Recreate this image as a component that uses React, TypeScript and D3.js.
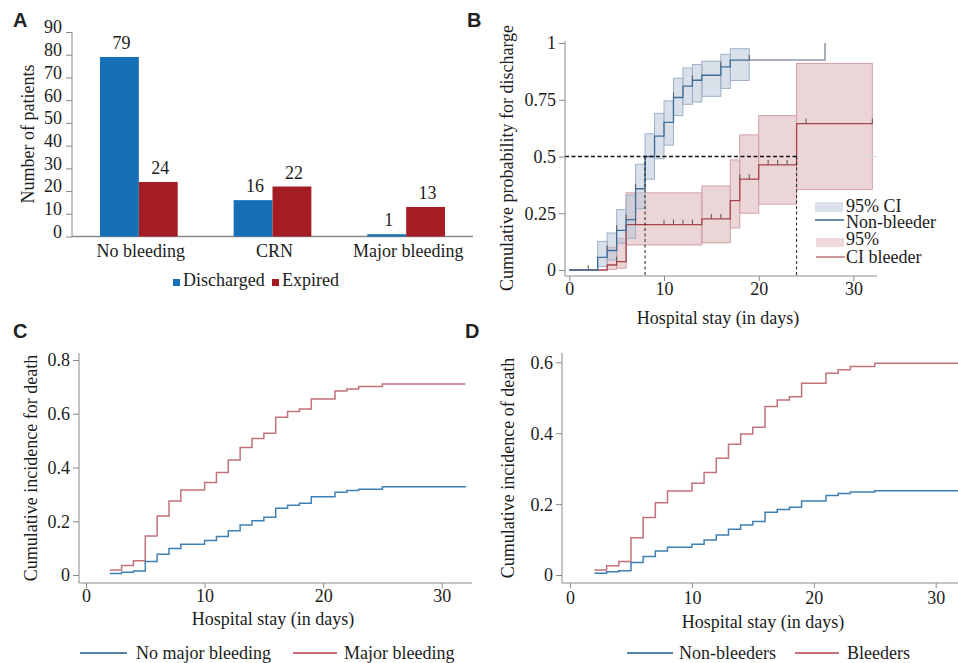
import React, { useEffect, useRef } from "react";
import * as d3 from "d3";

// ---- panel A
const barCategories = ["No bleeding", "CRN", "Major bleeding"];
const barSeries = ["Discharged", "Expired"];
const discharged = [79, 16, 1];
const expired = [24, 22, 13];
const barTicks = [0, 10, 20, 30, 40, 50, 60, 70, 80, 90];

// ---- panel B (Kaplan-Meier, cumulative probability for discharge)
const nonBleederDays = [0, 3, 4, 5, 6, 7, 8, 9, 10, 11, 12, 13, 14, 16, 17, 19];
const nonBleederProb = [0, 0.056, 0.086, 0.175, 0.222, 0.358, 0.5, 0.59, 0.65, 0.76, 0.81, 0.836, 0.858, 0.895, 0.925, 0.925];
const nonBleederTailDays = [19, 27, 27];
const nonBleederTailProb = [0.925, 0.925, 1];
const nonBleederCiDays = [3, 4, 5, 6, 7, 8, 9, 10, 11, 12, 13, 14, 16, 17, 19];
const nonBleederLo = [0.015, 0.044, 0.118, 0.14, 0.27, 0.4, 0.49, 0.55, 0.68, 0.73, 0.74, 0.765, 0.8, 0.835];
const nonBleederHi = [0.126, 0.163, 0.266, 0.33, 0.466, 0.6, 0.69, 0.745, 0.845, 0.89, 0.905, 0.92, 0.95, 0.975];
const nonBleederCensor = [2, 4, 5, 6, 7, 11, 13, 16, 19];

const bleederDays = [0, 4, 5, 6, 14, 17, 18, 20, 24, 32];
const bleederProb = [0, 0.022, 0.037, 0.2, 0.225, 0.306, 0.4, 0.463, 0.645, 0.645];
const bleederCiDays = [4, 5, 6, 14, 17, 18, 20, 24, 32];
const bleederLo = [0.003, 0.008, 0.11, 0.12, 0.185, 0.25, 0.29, 0.355];
const bleederHi = [0.1, 0.14, 0.34, 0.37, 0.485, 0.595, 0.68, 0.91];
const bleederCensor = [5, 7, 10, 11, 12, 13, 15, 16, 18, 19, 21, 22, 23, 25, 32];

const medianProb = 0.5;
const medianDays = [8, 24];
const probTicks = [0, 0.25, 0.5, 0.75, 1];
const dayTicks = [0, 10, 20, 30];

// ---- panel C
const deathDays = [2, 3, 4, 5, 6, 7, 8, 10, 11, 12, 13, 14, 15, 16, 17, 18, 19, 21, 22, 23, 25, 32];
const majorBleeding = [0.019, 0.035, 0.053, 0.145, 0.22, 0.275, 0.316, 0.344, 0.381, 0.428, 0.474, 0.508, 0.527, 0.587, 0.608, 0.618, 0.655, 0.685, 0.692, 0.701, 0.711, 0.711];
const noMajorBleeding = [0.006, 0.01, 0.015, 0.05, 0.077, 0.099, 0.114, 0.128, 0.143, 0.165, 0.186, 0.202, 0.215, 0.248, 0.26, 0.267, 0.291, 0.308, 0.314, 0.319, 0.328, 0.33];
const cTicks = [0, 0.2, 0.4, 0.6, 0.8];

// ---- panel D
const bleeders = [0.014, 0.026, 0.038, 0.105, 0.162, 0.204, 0.237, 0.259, 0.289, 0.329, 0.369, 0.398, 0.417, 0.475, 0.494, 0.503, 0.541, 0.569, 0.579, 0.588, 0.597, 0.597];
const nonBleeders = [0.005, 0.009, 0.012, 0.035, 0.052, 0.068, 0.078, 0.087, 0.099, 0.113, 0.129, 0.141, 0.151, 0.177, 0.185, 0.191, 0.209, 0.224, 0.23, 0.234, 0.238, 0.238];
const dTicks = [0, 0.2, 0.4, 0.6];

const FONT = "'Liberation Serif', 'Times New Roman', serif";
const SANS = "'Liberation Sans', Arial, sans-serif";
const AXIS = "#8a8a8a";
const TEXT = "#1c1c1c";
const FS = 18;

const stepAt = (days: number[], vals: number[], d: number) => {
  let v = vals[0];
  days.forEach((x, i) => {
    if (x <= d) v = vals[i];
  });
  return v;
};

const App = () => {
  const ref = useRef<SVGSVGElement>(null);

  useEffect(() => {
    const svg = d3.select(ref.current);
    svg.selectAll("*").remove();

    const txt = (x: number, y: number, s: string, anchor = "start", size = FS) =>
      svg
        .append("text")
        .attr("x", x)
        .attr("y", y)
        .attr("text-anchor", anchor)
        .attr("font-family", FONT)
        .attr("font-size", size)
        .attr("fill", TEXT)
        .text(s);

    const vtxt = (x: number, y: number, s: string) =>
      svg
        .append("text")
        .attr("transform", `translate(${x},${y}) rotate(-90)`)
        .attr("text-anchor", "middle")
        .attr("font-family", FONT)
        .attr("font-size", FS)
        .attr("fill", TEXT)
        .text(s);

    const letter = (x: number, y: number, s: string) =>
      svg
        .append("text")
        .attr("x", x)
        .attr("y", y)
        .attr("font-family", SANS)
        .attr("font-weight", "bold")
        .attr("font-size", 20)
        .attr("fill", "#222")
        .text(s);

    const yAxis = (y: any, ticks: number[], fmt: any, x: number, top: number, bottom: number, labelX: number, dy: string) => {
      const g = svg.append("g").attr("transform", `translate(${x},0)`);
      g.call(d3.axisLeft(y).tickValues(ticks).tickFormat(fmt).tickSize(6).tickSizeOuter(0));
      g.select(".domain").remove();
      g.append("line").attr("y1", top).attr("y2", bottom).attr("stroke", AXIS);
      g.selectAll(".tick line").attr("stroke", AXIS);
      g.selectAll(".tick text")
        .attr("x", labelX - x)
        .attr("dy", dy)
        .attr("fill", TEXT)
        .attr("font-size", FS)
        .attr("font-family", FONT);
    };

    const xAxis = (xs: any, ticks: number[], y: number, left: number, right: number, labelY: number) => {
      const g = svg.append("g").attr("transform", `translate(0,${y})`);
      g.call(d3.axisBottom(xs).tickValues(ticks).tickFormat(d3.format("d")).tickSize(5).tickSizeOuter(0));
      g.select(".domain").remove();
      g.append("line").attr("x1", left).attr("x2", right).attr("stroke", AXIS);
      g.selectAll(".tick line").attr("stroke", AXIS);
      g.selectAll(".tick text")
        .attr("y", labelY - y)
        .attr("dy", 0)
        .attr("fill", TEXT)
        .attr("font-size", FS)
        .attr("font-family", FONT);
    };

    const probFmt = (d: any) => (d === 0 ? "0" : d === 1 ? "1" : String(d));
    const oneFmt = (d: any) => (d === 0 ? "0" : d.toFixed(1));

    // ================= A =================
    const ay = d3.scaleLinear().domain([0, 90]).range([236.5, 32]);
    const ax = d3.scaleBand().domain(barCategories).range([72, 473]);
    const ax1 = d3.scaleBand().domain(barSeries).range([0, ax.bandwidth()]).paddingInner(0).paddingOuter(0.72);
    const barColor = d3.scaleOrdinal<string>().domain(barSeries).range(["#1570b8", "#a51d24"]);

    yAxis(ay, barTicks, d3.format("d"), 72, 32, 237, 62, "0.05em");
    svg.append("line").attr("x1", 72).attr("x2", 473).attr("y1", 236.5).attr("y2", 236.5).attr("stroke", AXIS).attr("stroke-width", 1.3);

    barCategories.forEach((c, i) => {
      [discharged[i], expired[i]].forEach((v, j) => {
        const s = barSeries[j];
        const x0 = (ax(c) as number) + (ax1(s) as number);
        svg
          .append("rect")
          .attr("x", x0)
          .attr("y", ay(v))
          .attr("width", ax1.bandwidth())
          .attr("height", ay(0) - ay(v))
          .attr("fill", barColor(s));
        txt(x0 + ax1.bandwidth() / 2 + 2, ay(v) - 8, String(v), "middle");
      });
      txt((ax(c) as number) + ax.bandwidth() / 2 + 2, 257, c, "middle");
    });
    vtxt(34, 134, "Number of patients");

    // legend A
    svg.append("rect").attr("x", 173).attr("y", 279).attr("width", 7).attr("height", 7).attr("fill", barColor("Discharged"));
    txt(183, 286, "Discharged");
    svg.append("rect").attr("x", 272).attr("y", 279).attr("width", 7).attr("height", 7).attr("fill", barColor("Expired"));
    txt(282, 286, "Expired");
    letter(13, 27, "A");

    // ================= B =================
    const bx = d3.scaleLinear().domain([0, 30]).range([569.3, 853.4]);
    const by = d3.scaleLinear().domain([0, 1]).range([270, 43]);
    const step = d3
      .line<[number, number]>()
      .x((d) => bx(d[0]))
      .y((d) => by(d[1]))
      .curve(d3.curveStepAfter);

    const bands = (days: number[], lo: number[], hi: number[], fill: string, stroke: string) => {
      lo.forEach((l, i) => {
        svg
          .append("rect")
          .attr("x", bx(days[i]))
          .attr("y", by(hi[i]))
          .attr("width", bx(days[i + 1]) - bx(days[i]))
          .attr("height", by(l) - by(hi[i]))
          .attr("fill", fill)
          .attr("fill-opacity", 0.55)
          .attr("stroke", stroke)
          .attr("stroke-width", 1);
      });
    };
    bands(bleederCiDays, bleederLo, bleederHi, "#dcb2b7", "#d2a0a6");
    bands(nonBleederCiDays, nonBleederLo, nonBleederHi, "#b9c7d9", "#9fb1c8");

    // faint reference line at 0.5
    svg.append("line").attr("x1", bx(medianDays[1])).attr("x2", 877).attr("y1", by(medianProb)).attr("y2", by(medianProb)).attr("stroke", "#d8d8d8");

    svg
      .append("path")
      .attr("d", step(bleederDays.map((d, i) => [d, bleederProb[i]]) as any))
      .attr("fill", "none")
      .attr("stroke", "#a8434d")
      .attr("stroke-width", 1.3);
    svg
      .append("path")
      .attr("d", step(nonBleederDays.map((d, i) => [d, nonBleederProb[i]]) as any))
      .attr("fill", "none")
      .attr("stroke", "#3f6d98")
      .attr("stroke-width", 1.3);
    svg
      .append("path")
      .attr("d", d3.line<[number, number]>().x((d) => bx(d[0])).y((d) => by(d[1]))(nonBleederTailDays.map((d, i) => [d, nonBleederTailProb[i]]) as any))
      .attr("fill", "none")
      .attr("stroke", "#8d96a6")
      .attr("stroke-width", 1.5);

    const censor = (days: number[], stepDays: number[], stepVals: number[]) => {
      days.forEach((d) => {
        const v = stepAt(stepDays, stepVals, d);
        svg.append("line").attr("x1", bx(d)).attr("x2", bx(d)).attr("y1", by(v)).attr("y2", by(v) - 5).attr("stroke", "#555").attr("stroke-width", 1);
      });
    };
    censor(nonBleederCensor, nonBleederDays, nonBleederProb);
    censor(bleederCensor, bleederDays, bleederProb);

    // median lines
    svg.append("line").attr("x1", 565).attr("x2", bx(medianDays[1])).attr("y1", by(medianProb)).attr("y2", by(medianProb)).attr("stroke", "#111").attr("stroke-width", 1.6).attr("stroke-dasharray", "4,2.5");
    medianDays.forEach((d) => {
      svg.append("line").attr("x1", bx(d)).attr("x2", bx(d)).attr("y1", by(medianProb)).attr("y2", 276).attr("stroke", "#222").attr("stroke-width", 1).attr("stroke-dasharray", "3,2.5");
    });

    yAxis(by, probTicks, probFmt, 565, 41, 276, 556, "0.33em");
    xAxis(bx, dayTicks, 276, 565, 877, 295);
    txt(718, 324, "Hospital stay (in days)", "middle");
    vtxt(513, 158, "Cumulative probability for discharge");

    // legend B
    svg.append("rect").attr("x", 815).attr("y", 202).attr("width", 28).attr("height", 10).attr("fill", "#dbe1ea");
    txt(846, 212, "95% CI");
    svg.append("line").attr("x1", 815).attr("x2", 844).attr("y1", 220).attr("y2", 220).attr("stroke", "#1d4f7c").attr("stroke-width", 1.3);
    txt(846, 228, "Non-bleeder");
    svg.append("rect").attr("x", 816).attr("y", 238).attr("width", 28).attr("height", 9).attr("fill", "#eedadc");
    txt(846, 245, "95%");
    svg.append("line").attr("x1", 816).attr("x2", 845).attr("y1", 257).attr("y2", 257).attr("stroke", "#b06068").attr("stroke-width", 1.3);
    txt(846, 263, "CI bleeder");
    letter(467, 27, "B");

    // ================= C =================
    const cx = d3.scaleLinear().domain([0, 30]).range([86, 441.7]);
    const cy = d3.scaleLinear().domain([0, 0.8]).range([575, 360]);
    const cStep = d3
      .line<[number, number]>()
      .x((d) => cx(d[0]))
      .y((d) => cy(d[1]))
      .curve(d3.curveStepAfter);
    svg.append("path").attr("d", cStep(deathDays.map((d, i) => [d, majorBleeding[i]]) as any)).attr("fill", "none").attr("stroke", "#c2727a").attr("stroke-width", 1.5);
    svg.append("path").attr("d", cStep(deathDays.map((d, i) => [d, noMajorBleeding[i]]) as any)).attr("fill", "none").attr("stroke", "#3f80b5").attr("stroke-width", 1.5);
    yAxis(cy, cTicks, oneFmt, 79, 353, 583, 70, "0.33em");
    xAxis(cx, dayTicks, 583, 79, 472, 602);
    txt(273, 625, "Hospital stay (in days)", "middle");
    vtxt(37, 468, "Cumulative incidence for death");
    svg.append("line").attr("x1", 80).attr("x2", 127).attr("y1", 653).attr("y2", 653).attr("stroke", "#1f5a8a").attr("stroke-width", 1.3);
    txt(136, 659, "No major bleeding");
    svg.append("line").attr("x1", 293).attr("x2", 337).attr("y1", 653).attr("y2", 653).attr("stroke", "#b0454d").attr("stroke-width", 1.3);
    txt(344, 659, "Major bleeding");
    letter(13, 338, "C");

    // ================= D =================
    const dx = d3.scaleLinear().domain([0, 30]).range([570, 935.7]);
    const dy = d3.scaleLinear().domain([0, 0.6]).range([575, 362.3]);
    const dStep = d3
      .line<[number, number]>()
      .x((d) => dx(d[0]))
      .y((d) => dy(d[1]))
      .curve(d3.curveStepAfter);
    svg.append("path").attr("d", dStep(deathDays.map((d, i) => [d, bleeders[i]]) as any)).attr("fill", "none").attr("stroke", "#c2727a").attr("stroke-width", 1.5);
    svg.append("path").attr("d", dStep(deathDays.map((d, i) => [d, nonBleeders[i]]) as any)).attr("fill", "none").attr("stroke", "#3f80b5").attr("stroke-width", 1.5);
    yAxis(dy, dTicks, oneFmt, 562, 353, 583, 553, "0.33em");
    xAxis(dx, dayTicks, 583, 562, 958, 604);
    txt(763, 628, "Hospital stay (in days)", "middle");
    vtxt(514, 468, "Cumulative incidence of death");
    svg.append("line").attr("x1", 627).attr("x2", 673).attr("y1", 653).attr("y2", 653).attr("stroke", "#1f5a8a").attr("stroke-width", 1.3);
    txt(679, 659, "Non-bleeders");
    svg.append("line").attr("x1", 795).attr("x2", 839).attr("y1", 653).attr("y2", 653).attr("stroke", "#b0454d").attr("stroke-width", 1.3);
    txt(847, 659, "Bleeders");
    letter(465, 338, "D");
  }, []);

  return (
    <div style={{ position: "absolute", left: 0, top: 0, width: 958, height: 663, background: "#fff" }}>
      <svg ref={ref} width={958} height={663} style={{ display: "block" }}></svg>
    </div>
  );
};

export default App;
